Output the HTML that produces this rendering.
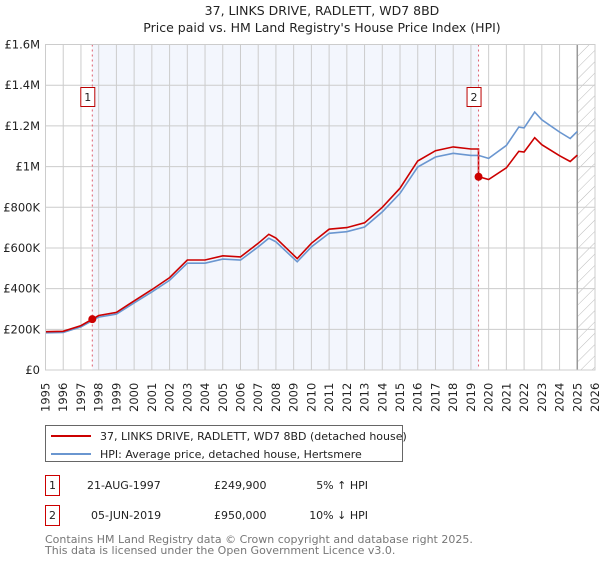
<!DOCTYPE html>
<html><head><meta charset="utf-8"><style>
body{margin:0;background:#fff;font-family:"DejaVu Sans","Liberation Sans",sans-serif;}
svg text{font-family:"DejaVu Sans","Liberation Sans",sans-serif;}
</style></head><body>
<svg id="chart" width="600" height="560" viewBox="0 0 600 560" xmlns="http://www.w3.org/2000/svg">
<defs><pattern id="hatch" patternUnits="userSpaceOnUse" width="8" height="8" patternTransform="rotate(45)"><line x1="0" y1="0" x2="0" y2="8" stroke="#bbb" stroke-width="1"/></pattern></defs>
<text x="322" y="15" text-anchor="middle" font-size="12.5" fill="#222">37, LINKS DRIVE, RADLETT, WD7 8BD</text>
<text x="322" y="32" text-anchor="middle" font-size="12.5" fill="#222">Price paid vs. HM Land Registry's House Price Index (HPI)</text>
<g id="plot"></g>
<g>
<rect x="45.5" y="425.5" width="357" height="36" fill="#fff" stroke="#666"/>
<line x1="51" y1="436" x2="91" y2="436" stroke="#cc0000" stroke-width="2"/>
<text x="100" y="440" font-size="11" fill="#222">37, LINKS DRIVE, RADLETT, WD7 8BD (detached house)</text>
<line x1="51" y1="454" x2="91" y2="454" stroke="#6a96d0" stroke-width="2"/>
<text x="100" y="458" font-size="11" fill="#222">HPI: Average price, detached house, Hertsmere</text>
</g>
<g font-size="11" fill="#222">
<rect x="45.5" y="475.5" width="14" height="20" fill="#fff" stroke="#c00"/><text x="52.5" y="489" text-anchor="middle">1</text>
<text x="87" y="489">21-AUG-1997</text><text x="214" y="489">£249,900</text><text x="368" y="489" text-anchor="end">5% ↑ HPI</text>
<rect x="45.5" y="505.5" width="14" height="20" fill="#fff" stroke="#c00"/><text x="52.5" y="519" text-anchor="middle">2</text>
<text x="91" y="519">05-JUN-2019</text><text x="214" y="519">£950,000</text><text x="368" y="519" text-anchor="end">10% ↓ HPI</text>
</g>
<text x="45" y="543" font-size="11" fill="#777">Contains HM Land Registry data © Crown copyright and database right 2025.</text>
<text x="45" y="554" font-size="11" fill="#777">This data is licensed under the Open Government Licence v3.0.</text>
</svg>
<script>
const hpiYears=[1995,1996,1997,1998,1999,2000,2001,2002,2003,2004,2005,2006,2007,2007.6,2008,2009.2,2010,2011,2012,2013,2014,2015,2016,2017,2018,2019,2019.43,2020,2021,2021.7,2022,2022.6,2023,2024,2024.6,2025];
const hpiValues=[183000,185000,212000,260000,275000,330000,384000,441000,525000,525000,545000,540000,605000,648000,630000,532000,605000,672000,680000,703000,777000,868000,998000,1047000,1065000,1055000,1055000,1040000,1104000,1194000,1190000,1268000,1230000,1170000,1138000,1173000];
const saleDates=[1997.64,2019.43];
const salePrices=[249900,950000];
const saleLabels=["1","2"];
const yTicks=[0,200000,400000,600000,800000,1000000,1200000,1400000,1600000];
const yTickLabels=["£0","£200K","£400K","£600K","£800K","£1M","£1.2M","£1.4M","£1.6M"];
const xTicks=[1995,1996,1997,1998,1999,2000,2001,2002,2003,2004,2005,2006,2007,2008,2009,2010,2011,2012,2013,2014,2015,2016,2017,2018,2019,2020,2021,2022,2023,2024,2025,2026];
const X0=45.5,X1=595,Y0=370,Y1=44.5;
const xs=v=>X0+(v-1995)/(2026-1995)*(X1-X0);
const ys=v=>Y0-v/1600000*(Y0-Y1);
const NS="http://www.w3.org/2000/svg";
const g=document.getElementById('plot');
function mk(t,a){const e=document.createElementNS(NS,t);for(const k in a)e.setAttribute(k,a[k]);g.appendChild(e);return e;}
const hpiAt=t=>{for(let i=1;i<hpiYears.length;i++){if(t<=hpiYears[i]){const f=(t-hpiYears[i-1])/(hpiYears[i]-hpiYears[i-1]);return hpiValues[i-1]+f*(hpiValues[i]-hpiValues[i-1]);}}return hpiValues[hpiValues.length-1];};
let e=mk('rect',{x:xs(saleDates[0]),y:Y1,width:xs(saleDates[1])-xs(saleDates[0]),height:Y0-Y1,fill:'#f3f6fd'});


e=mk('rect',{x:xs(2025),y:Y1,width:X1-xs(2025),height:Y0-Y1,fill:'url(#hatch)'});


yTicks.forEach((v,i)=>{
 e=mk('line',{x1:X0,x2:X1,y1:ys(v),y2:ys(v),stroke:'#ccc'});
 
 
 e=mk('text',{x:40,y:ys(v)+4,'text-anchor':'end','font-size':11.5,fill:'#222'});e.textContent=yTickLabels[i];
 
 
});
xTicks.forEach(v=>{
 e=mk('line',{x1:xs(v),x2:xs(v),y1:Y1,y2:Y0,stroke:'#ccc'});
 
 
 e=mk('text',{x:0,y:0,transform:`translate(${xs(v)+4},${Y0+42}) rotate(-90)`,'font-size':11.5,fill:'#222'});e.textContent=v;
 
 
});
e=mk('line',{x1:xs(2025),x2:xs(2025),y1:Y1,y2:Y0,stroke:'#999','stroke-width':1.5});


e=mk('path',{d:hpiYears.map((t,i)=>(i?'L':'M')+xs(t).toFixed(1)+','+ys(hpiValues[i]).toFixed(1)).join(''),fill:'none',stroke:'#6a96d0','stroke-width':1.6});


const r1=salePrices[0]/hpiAt(saleDates[0]),r2=salePrices[1]/hpiAt(saleDates[1]);
let pts=[];
hpiYears.forEach((t,i)=>{ if(t<saleDates[1]) pts.push([t,hpiValues[i]*r1]); });
pts.push([saleDates[1],hpiAt(saleDates[1])*r1]);
pts.push([saleDates[1],salePrices[1]]);
hpiYears.forEach((t,i)=>{ if(t>saleDates[1]) pts.push([t,hpiValues[i]*r2]); });
e=mk('path',{d:pts.map((p,i)=>(i?'L':'M')+xs(p[0]).toFixed(1)+','+ys(p[1]).toFixed(1)).join(''),fill:'none',stroke:'#cc0000','stroke-width':1.6});


saleDates.forEach((t,i)=>{
 e=mk('line',{x1:xs(t),x2:xs(t),y1:Y1,y2:Y0,stroke:'#e06070','stroke-dasharray':'2,3'});
 
 
 e=mk('circle',{cx:xs(t),cy:ys(salePrices[i]),r:4,fill:'#cc0000'});
 
 
 e=mk('rect',{x:xs(t)-11.5,y:87.5,width:14,height:19,fill:'#fff',stroke:'#b00'});
 
 
 e=mk('text',{x:xs(t)-4.5,y:101,'text-anchor':'middle','font-size':11,fill:'#222'});e.textContent=saleLabels[i];
 
 
});
e=mk('rect',{x:X0,y:Y1,width:X1-X0,height:Y0-Y1,fill:'none',stroke:'#ccc'});


</script>
</body></html>
